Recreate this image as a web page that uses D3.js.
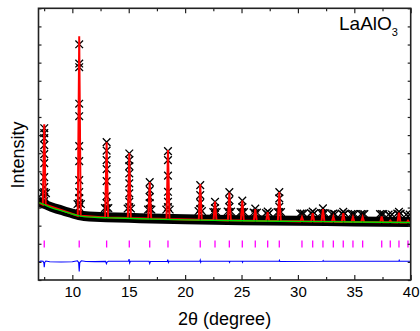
<!DOCTYPE html>
<html><head><meta charset="utf-8">
<script src="https://cdn.jsdelivr.net/npm/d3@7"></script>
<style>body{margin:0;background:#fff}svg{display:block}</style>
</head><body><svg id="c" width="420" height="331"></svg>
<script>
// ---- data (2θ in degrees, intensity in arbitrary counts) ----
const xTicks = [10, 15, 20, 25, 30, 35, 40];
const xMinorTicks = [7.5, 12.5, 17.5, 22.5, 27.5, 32.5, 37.5];
const yTickCount = 15;

const bgX = [7.0, 7.5, 8.0, 8.5, 9.0, 9.5, 10.0, 10.5, 11.0, 12.0, 14.0, 16.0, 20.0, 25.0, 30.0, 35.0, 40.0];
const bgY = [775, 755, 730, 710, 695, 677, 660, 645, 635, 628, 620, 613, 602, 593, 587, 581, 575];

const obsX      = [7.0, 7.5, 8.0, 8.5, 9.0, 9.5, 10.0, 10.5, 11.0, 12.0, 14.0, 16.0, 20.0, 25.0, 30.0, 35.0, 40.0];
const obsUpper  = [830, 810, 785, 765, 750, 732, 715, 700, 690, 683, 675, 668, 657, 648, 642, 636, 630];
const obsLower  = [730, 710, 685, 665, 650, 632, 615, 600, 590, 583, 575, 568, 557, 548, 542, 536, 530];

const peakPos  = [7.51, 10.61, 13.04, 15.05, 16.86, 18.48, 21.34, 22.65, 23.92, 25.07, 26.22, 27.32,
                  28.35, 30.36, 31.31, 32.22, 33.14, 34.02, 34.88, 35.74, 37.43, 38.19, 38.96, 39.76];
const calcTop  = [1560, 2440, 1380, 1270, 980, 1300, 960, 785, 875, 795, 710, 680,
                  880, 630, 670, 710, 635, 670, 630, 630, 635, 595, 675, 595];
const calcBase = [755, 643, 626, 620, 615, 610, 602, 600, 597, 595, 593, 591,
                  590, 587, 586, 585, 584, 582, 581, 580, 578, 577, 576, 575];
const obsPeak = [
  [1520, 1470, 1420, 1350, 1260, 1170, 1030, 930, 880, 830, 790],
  [2360, 2167, 2130, 1765, 1640, 1340, 1190, 1000, 880, 820, 770, 730],
  [1380, 1295, 1200, 1110, 990, 840, 770, 720],
  [1267, 1200, 1140, 1067, 967, 867, 783, 730],
  [980, 900, 830, 770, 710],
  [1290, 1200, 1045, 883, 783, 730],
  [950, 850, 770, 710],
  [783, 720, 680],
  [880, 800, 730, 680],
  [795, 730, 680],
  [715, 670],
  [685, 655],
  [880, 817, 733, 680],
  [665],
  [685, 655],
  [717, 670],
  [665],
  [683, 655],
  [660],
  [660],
  [660],
  [640],
  [683, 655],
  [640]
];
// observed points on the flanks of each reflection
const obsShoulder = [870, 760, 720, 715, 705, 705, 690, 680, 685, 680, 675, 670,
                     680, 665, 670, 670, 660, 665, 660, 660, 660, 655, 665, 655];
const shoulderOffsets = [-0.15, 0.15];

const braggPos = [7.51, 10.61, 13.04, 15.05, 16.86, 18.48, 21.34, 22.65, 23.92, 25.07, 26.22, 27.32,
                  28.35, 30.36, 31.31, 32.22, 33.14, 34.02, 34.88, 35.74, 37.43, 38.19, 38.96, 39.76];
const braggLevel = 360;

const diffX = [7.0, 7.2, 7.4, 7.48, 7.51, 7.55, 7.65, 8.0, 9.0, 10.0, 10.45, 10.56, 10.61, 10.66, 10.8, 11.2,
               12.0, 12.95, 13.02, 13.08, 13.2, 14.98, 15.03, 15.08, 15.15, 16.8, 16.86, 16.92,
               18.42, 18.46, 18.52, 18.58, 21.3, 21.34, 21.38, 21.42, 23.9, 23.94, 23.98,
               25.05, 25.09, 25.12, 28.33, 28.36, 28.4, 32.2, 32.24, 32.28, 38.95, 38.98, 39.02, 40.0];
const diffY = [177, 190, 187, 170, 127, 175, 190, 182, 180, 183, 192, 175, 85, 175, 192, 185,
               184, 186, 163, 180, 187, 187, 210, 170, 187, 187, 165, 185,
               187, 205, 175, 187, 187, 200, 177, 187, 187, 177, 187,
               187, 177, 187, 187, 197, 185, 187, 195, 187, 187, 197, 187, 187];

// ---- layout ----
const svg = d3.select("#c");
const L = 38.5, R = 410.7, T = 8.3, B = 280;
const x = d3.scaleLinear().domain([7, 40]).range([L, R]);
const y = d3.scaleLinear().domain([0, 2720]).range([B, T]);

svg.append("defs").append("clipPath").attr("id", "clip")
  .append("rect").attr("x", L).attr("y", T).attr("width", R - L).attr("height", B - T);
const g = svg.append("g").attr("clip-path", "url(#clip)");

// observed background band
const bandData = obsX.map((d, i) => ({x: d, hi: obsUpper[i], lo: obsLower[i]}));
g.append("path").datum(bandData)
  .attr("d", d3.area().x(d => x(d.x)).y0(d => y(d.lo)).y1(d => y(d.hi)).curve(d3.curveMonotoneX))
  .attr("fill", "#000");

// observed peak points (x markers)
const sym = d3.symbol().type(d3.symbolX).size(40);
const obsPts = [];
peakPos.forEach((p, i) => {
  obsPeak[i].forEach(v => obsPts.push({x: p, y: v}));
  shoulderOffsets.forEach(o => obsPts.push({x: p + o, y: obsShoulder[i]}));
});
g.append("g").selectAll("path").data(obsPts).join("path")
  .attr("transform", d => `translate(${x(d.x)},${y(d.y)})`)
  .attr("d", sym).attr("fill", "none").attr("stroke", "#000").attr("stroke-width", 1.3);

// calculated profile
const calcPts = [{x: bgX[0], y: bgY[0]}];
peakPos.forEach((p, i) => {
  calcPts.push({x: p - 0.13, y: calcBase[i]});
  calcPts.push({x: p, y: calcTop[i]});
  calcPts.push({x: p + 0.13, y: calcBase[i]});
});
calcPts.push({x: bgX[bgX.length - 1], y: bgY[bgY.length - 1]});
g.append("path").datum(calcPts)
  .attr("d", d3.line().x(d => x(d.x)).y(d => y(d.y)))
  .attr("fill", "none").attr("stroke", "#ff0000").attr("stroke-width", 2);

// background
g.append("path").datum(bgX.map((d, i) => ({x: d, y: bgY[i]})))
  .attr("d", d3.line().x(d => x(d.x)).y(d => y(d.y)).curve(d3.curveMonotoneX))
  .attr("fill", "none").attr("stroke", "#00dd00").attr("stroke-width", 1.4);

// Bragg positions
g.append("g").selectAll("line").data(braggPos).join("line")
  .attr("x1", d => x(d)).attr("x2", d => x(d))
  .attr("y1", y(braggLevel) - 3.5).attr("y2", y(braggLevel) + 3.5)
  .attr("stroke", "#ff00ff").attr("stroke-width", 1.3);

// difference
g.append("path").datum(diffX.map((d, i) => ({x: d, y: diffY[i]})))
  .attr("d", d3.line().x(d => x(d.x)).y(d => y(d.y)))
  .attr("fill", "none").attr("stroke", "#0000ff").attr("stroke-width", 1.1);

// ---- axes ----
const yTicks = d3.range(yTickCount + 1).map(i => i * 2720 / yTickCount);
function style(sel) {
  sel.select(".domain").remove();
  sel.selectAll(".tick line").attr("stroke", "#222").attr("stroke-width", 1.2);
  sel.selectAll("text").attr("font-family", "Liberation Sans, Arial, sans-serif")
    .attr("font-size", 15).attr("fill", "#000");
}
svg.append("g").attr("transform", `translate(0,${B})`)
  .call(d3.axisBottom(x).tickValues(xTicks).tickSize(-5).tickPadding(6.5).tickFormat(d3.format("d"))).call(style);
svg.append("g").attr("transform", `translate(0,${B})`)
  .call(d3.axisBottom(x).tickValues(xMinorTicks).tickSize(-3).tickFormat("")).call(style);
svg.append("g").attr("transform", `translate(0,${T})`)
  .call(d3.axisTop(x).tickValues(xTicks).tickSize(-5).tickFormat("")).call(style);
svg.append("g").attr("transform", `translate(0,${T})`)
  .call(d3.axisTop(x).tickValues(xMinorTicks).tickSize(-3).tickFormat("")).call(style);
svg.append("g").attr("transform", `translate(${L},0)`)
  .call(d3.axisLeft(y).tickValues(yTicks).tickSize(-3).tickFormat("")).call(style);
svg.append("g").attr("transform", `translate(${R},0)`)
  .call(d3.axisRight(y).tickValues(yTicks).tickSize(-3).tickFormat("")).call(style);

svg.append("rect").attr("x", L).attr("y", T).attr("width", R - L).attr("height", B - T)
  .attr("fill", "none").attr("stroke", "#222").attr("stroke-width", 1.6);

// ---- titles ----
const font = "Liberation Sans, Arial, sans-serif";
svg.append("text").attr("x", (L + R) / 2).attr("y", 325).attr("text-anchor", "middle")
  .attr("font-family", font).attr("font-size", 18).text("2θ (degree)");
svg.append("text").attr("transform", "translate(24,155) rotate(-90)").attr("text-anchor", "middle")
  .attr("font-family", font).attr("font-size", 18).text("Intensity");
const lbl = svg.append("text").attr("x", 339).attr("y", 29.5)
  .attr("font-family", font).attr("font-size", 19);
lbl.append("tspan").text("LaAlO");
lbl.append("tspan").attr("font-size", 11).attr("dy", 6).text("3");
</script></body></html>
